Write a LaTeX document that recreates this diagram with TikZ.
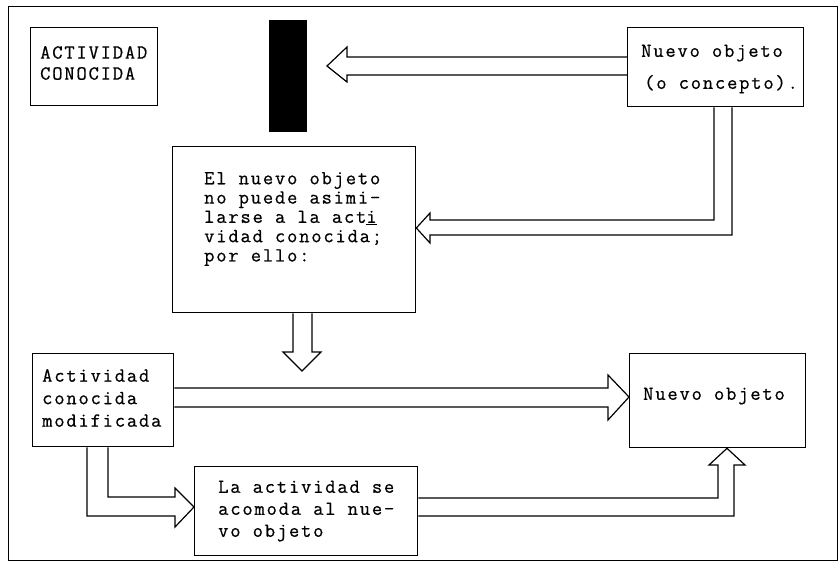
\documentclass[tikz,border=0pt]{standalone}
\usepackage{fontspec}
\newfontfamily\tw[LetterSpace=9,FakeBold=0.6]{Latin Modern Mono}
\begin{document}
\begin{tikzpicture}[x=1pt,y=-1pt,
  box/.style={draw, line width=1.3pt, inner sep=0pt, anchor=north west, rectangle},
  txt/.style={anchor=west, inner sep=0pt, align=left, font=\tw\fontsize{20}{#1}\selectfont},
  txt/.default=21,
  dblarrow/.style={draw, line width=1.2pt, line join=miter}]
\useasboundingbox (0,0) rectangle (838,562);
% frame
\draw[line width=1pt] (8,6) rectangle (837,560);
% boxes
\node[box, minimum width=127pt, minimum height=78pt] (act) at (30,27) {};
\node[box, minimum width=176pt, minimum height=79pt] (nuevoA) at (627,27) {};
\node[box, fill=black, minimum width=37pt, minimum height=111pt] (bar) at (269,20) {};
\node[box, minimum width=243pt, minimum height=166pt] (mid) at (172,146) {};
\node[box, minimum width=141pt, minimum height=93pt] (modif) at (32,353) {};
\node[box, minimum width=176pt, minimum height=94pt] (nuevoB) at (629,353) {};
\node[box, minimum width=223pt, minimum height=89pt] (acom) at (194,466) {};
% texts
\node[txt=21] (tact) at (40,63) {ACTIVIDAD\\CONOCIDA};
\node[txt=32] (tnuevoA) at (641,69) {Nuevo objeto\\\hspace*{3pt}(o concepto).};
\node[txt=19.3] (tmid) at (204,219) {El nuevo objeto\\no puede asimi-\\larse a la act\underline{i}\\vidad conocida;\\por ello:};
\node[txt=22.5] (tmodif) at (42,398) {Actividad\\conocida\\modificada};
\node[txt=22] (tacom) at (218,511) {La actividad se\\acomoda al nue-\\vo objeto};
\node[txt=21] (tnuevoB) at (643,396) {Nuevo objeto};
% arrows
\draw[dblarrow] (nuevoA.west |- 0,57) -- (347,57) -- (347,47) -- (327,66) -- (347,82) -- (347,75) -- (nuevoA.west |- 0,75);
\draw[dblarrow] (nuevoA.south -| 714,0) -- (714,220) -- (430,220) -- (430,213) -- (mid.east |- 0,228) -- (430,243) -- (430,235) -- (732,235) -- (nuevoA.south -| 732,0);
\draw[dblarrow] (mid.south -| 293,0) -- (293,352) -- (283,352) -- (302,371) -- (321,352) -- (312,352) -- (mid.south -| 312,0);
\draw[dblarrow] (modif.east |- 0,388) -- (608,388) -- (608,375) -- (nuevoB.west |- 0,397) -- (608,420) -- (608,407) -- (modif.east |- 0,407);
\draw[dblarrow] (modif.south -| 108,0) -- (108,497) -- (175,497) -- (175,488) -- (acom.west |- 0,507) -- (175,527) -- (175,516) -- (87,516) -- (modif.south -| 87,0);
\draw[dblarrow] (acom.east |- 0,498) -- (718,498) -- (718,465) -- (709,465) -- (nuevoB.south -| 727,0) -- (745,465) -- (734,465) -- (734,516) -- (acom.east |- 0,516);
\end{tikzpicture}
\end{document}
